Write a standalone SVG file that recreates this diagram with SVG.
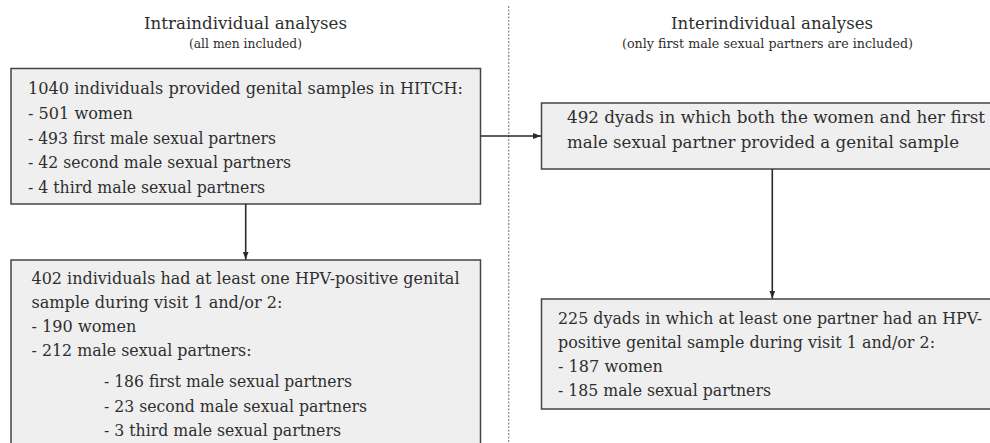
<svg xmlns="http://www.w3.org/2000/svg" width="990" height="443" viewBox="0 0 990 443">
<style>
.t{font-family:'DejaVu Serif','Noto Serif',serif;fill:#2e2e2e}
.h{font-size:16.5px;text-anchor:middle}
.s{font-size:12.3px;text-anchor:middle}
.b{font-size:16.4px}
.box{fill:#efefef;stroke:#444;stroke-width:1.5}
.c{stroke:#2a2a2a;stroke-width:1.6;fill:none;marker-end:url(#ah)}
</style>
<defs>
<marker id="ah" viewBox="0 0 8 8" refX="8" refY="4" markerWidth="8" markerHeight="8" markerUnits="userSpaceOnUse" orient="auto">
<path d="M0,1 L8,4 L0,7 z" fill="#2a2a2a"/>
</marker>
</defs>
<g id="divider">
<line x1="508.7" y1="6" x2="508.7" y2="443" stroke="#888" stroke-width="1.2" stroke-dasharray="2,1.5"/>
</g>
<g id="heading-left" class="t">
<text class="h" x="245.5" y="29" textLength="203" lengthAdjust="spacingAndGlyphs">Intraindividual analyses</text>
<text class="s" x="245.5" y="48" textLength="113" lengthAdjust="spacingAndGlyphs">(all men included)</text>
</g>
<g id="heading-right" class="t">
<text class="h" x="772" y="29" textLength="202" lengthAdjust="spacingAndGlyphs">Interindividual analyses</text>
<text class="s" x="767.5" y="48" textLength="291" lengthAdjust="spacingAndGlyphs">(only first male sexual partners are included)</text>
</g>
<g id="box1" class="t">
<rect class="box" x="11" y="68.5" width="469.5" height="135.5"/>
<text class="b" x="28" y="94" textLength="435" lengthAdjust="spacingAndGlyphs">1040 individuals provided genital samples in HITCH:</text>
<text class="b" x="28" y="119" textLength="105" lengthAdjust="spacingAndGlyphs">- 501 women</text>
<text class="b" x="28" y="143.5" textLength="248" lengthAdjust="spacingAndGlyphs">- 493 first male sexual partners</text>
<text class="b" x="28" y="168" textLength="263" lengthAdjust="spacingAndGlyphs">- 42 second male sexual partners</text>
<text class="b" x="28" y="192.5" textLength="237" lengthAdjust="spacingAndGlyphs">- 4 third male sexual partners</text>
</g>
<g id="box2" class="t">
<rect class="box" x="11" y="260" width="469.5" height="200"/>
<text class="b" x="31.5" y="284" textLength="428" lengthAdjust="spacingAndGlyphs">402 individuals had at least one HPV-positive genital</text>
<text class="b" x="31.5" y="308" textLength="251" lengthAdjust="spacingAndGlyphs">sample during visit 1 and/or 2:</text>
<text class="b" x="31.5" y="332" textLength="105" lengthAdjust="spacingAndGlyphs">- 190 women</text>
<text class="b" x="31.5" y="356" textLength="220" lengthAdjust="spacingAndGlyphs">- 212 male sexual partners:</text>
<text class="b" x="104" y="387" textLength="248" lengthAdjust="spacingAndGlyphs">- 186 first male sexual partners</text>
<text class="b" x="104" y="411.5" textLength="263" lengthAdjust="spacingAndGlyphs">- 23 second male sexual partners</text>
<text class="b" x="104" y="435.5" textLength="237" lengthAdjust="spacingAndGlyphs">- 3 third male sexual partners</text>
</g>
<g id="box3" class="t">
<rect class="box" x="541.5" y="103" width="460" height="66"/>
<text class="b" x="567" y="123" textLength="418" lengthAdjust="spacingAndGlyphs">492 dyads in which both the women and her first</text>
<text class="b" x="567" y="148" textLength="392" lengthAdjust="spacingAndGlyphs">male sexual partner provided a genital sample</text>
</g>
<g id="box4" class="t">
<rect class="box" x="541.5" y="299" width="460" height="110"/>
<text class="b" x="558" y="324" textLength="424" lengthAdjust="spacingAndGlyphs">225 dyads in which at least one partner had an HPV-</text>
<text class="b" x="558" y="348" textLength="377" lengthAdjust="spacingAndGlyphs">positive genital sample during visit 1 and/or 2:</text>
<text class="b" x="558" y="372" textLength="105" lengthAdjust="spacingAndGlyphs">- 187 women</text>
<text class="b" x="558" y="396" textLength="213" lengthAdjust="spacingAndGlyphs">- 185 male sexual partners</text>
</g>
<g id="connectors">
<line class="c" x1="245.7" y1="204" x2="245.7" y2="259.5"/>
<line class="c" x1="480.5" y1="136" x2="541" y2="136"/>
<line class="c" x1="772.3" y1="169" x2="772.3" y2="298.5"/>
</g>
</svg>
